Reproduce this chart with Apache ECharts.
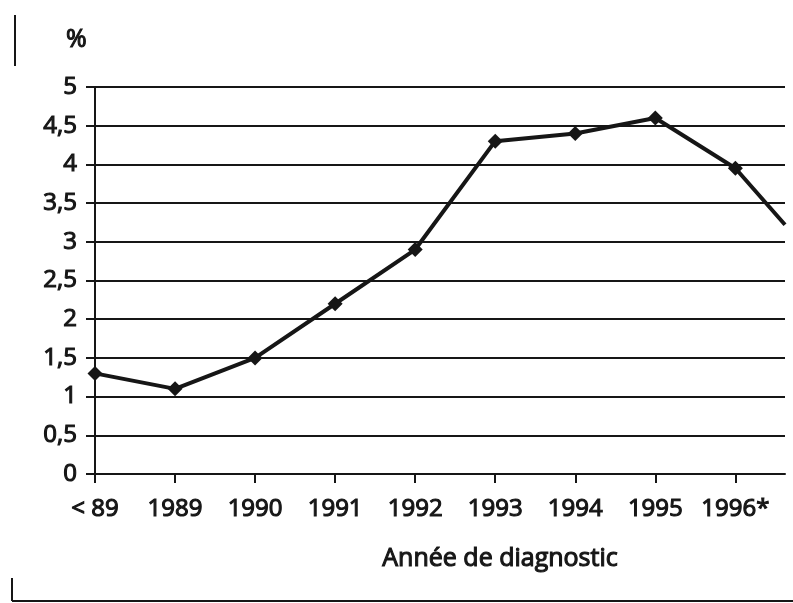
<!DOCTYPE html>
<html>
<head>
<meta charset="utf-8">
<script src="https://cdn.jsdelivr.net/npm/echarts@6/dist/echarts.min.js"></script>
<style>
  html, body { margin: 0; padding: 0; background: #fff; }
  #chart { width: 793px; height: 603px; }
</style>
</head>
<body>
<div id="chart"></div>
<script>
// categories on the x axis, one per year of diagnosis
const categories = ['< 89', '1989', '1990', '1991', '1992', '1993', '1994', '1995', '1996*'];
const values = [1.3, 1.1, 1.5, 2.2, 2.9, 4.3, 4.4, 4.6, 3.95];
// the line runs on past 1996* and is cut at the frame edge
const tailPos = 8.62;
const tailValue = 3.22;
const yTicks = [0, 0.5, 1, 1.5, 2, 2.5, 3, 3.5, 4, 4.5, 5];

const ink = '#161616';
const font = 'Open Sans';
// scanned print looks a bit heavier than regular, thicken slightly
const textBase = { fontFamily: font, color: ink, textBorderColor: ink, textBorderWidth: 1.1 };

const lineData = values.map((v, i) => [i, v]);
lineData.push({ value: [tailPos, tailValue], symbol: 'none' });

const chart = echarts.init(document.getElementById('chart'), null, { renderer: 'canvas' });

chart.setOption({
  animation: false,
  backgroundColor: '#fff',
  title: {
    text: '%',
    left: 61,
    top: 22,
    textStyle: Object.assign({ fontSize: 25, fontWeight: 'normal' }, textBase)
  },
  grid: { left: 95, right: 8, top: 87, bottom: 129 },
  xAxis: {
    type: 'value',
    min: 0,
    max: tailPos,
    interval: 1,
    name: 'Année de diagnostic',
    nameLocation: 'middle',
    nameGap: 72,
    nameTextStyle: Object.assign({ fontSize: 25, padding: [0, 0, 0, 120] }, textBase),
    axisLine: { show: true, onZero: false, lineStyle: { color: ink, width: 2 } },
    axisTick: { show: true, length: 9, lineStyle: { color: ink, width: 2 }, customValues: categories.map((c, i) => i) },
    axisLabel: Object.assign({
      fontSize: 24, margin: 23,
      customValues: categories.map((c, i) => i),
      formatter: v => categories[Math.round(v)] || ''
    }, textBase),
    splitLine: { show: false }
  },
  yAxis: {
    type: 'value',
    min: 0,
    max: 5,
    interval: 0.5,
    axisLine: { show: true, lineStyle: { color: ink, width: 2 } },
    axisTick: { show: true, length: 9, lineStyle: { color: ink, width: 2 } },
    axisLabel: Object.assign({
      fontSize: 24, margin: 18,
      customValues: yTicks,
      formatter: v => String(v).replace('.', ',')
    }, textBase),
    splitLine: { show: true, lineStyle: { color: ink, width: 2 } }
  },
  graphic: [
    { type: 'line', shape: { x1: 15, y1: 15, x2: 15, y2: 66 }, style: { stroke: ink, lineWidth: 2 } },
    { type: 'line', shape: { x1: 12, y1: 578, x2: 12, y2: 601 }, style: { stroke: ink, lineWidth: 2 } },
    { type: 'line', shape: { x1: 12, y1: 601, x2: 793, y2: 601 }, style: { stroke: ink, lineWidth: 2 } }
  ],
  series: [{
    type: 'line',
    data: lineData,
    symbol: 'diamond',
    symbolSize: 15,
    lineStyle: { color: ink, width: 4 },
    itemStyle: { color: ink }
  }]
});
</script>
</body>
</html>
